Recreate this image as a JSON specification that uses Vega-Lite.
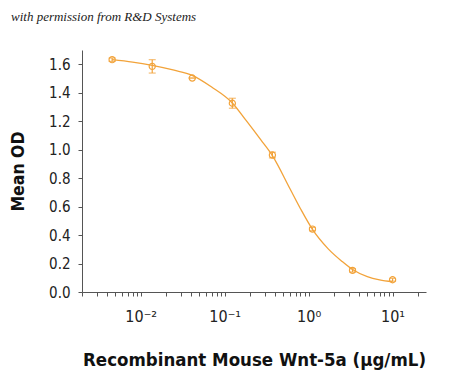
{
  "$schema": "https://vega.github.io/schema/vega-lite/v6.json",
  "width": 344,
  "height": 242,
  "autosize": {"type": "none"},
  "padding": {"left": 82, "top": 50, "right": 24, "bottom": 83},
  "background": "white",
  "title": {
    "text": "with permission from R&D Systems",
    "anchor": "start",
    "frame": "group",
    "dx": -71,
    "offset": 16,
    "baseline": "alphabetic",
    "font": "Liberation Serif",
    "fontStyle": "italic",
    "fontWeight": "normal",
    "fontSize": 13,
    "color": "#222222"
  },
  "config": {
    "view": {"stroke": null},
    "axis": {
      "grid": false,
      "domainColor": "#555555",
      "tickColor": "#555555",
      "labelColor": "#222222",
      "titleColor": "#111111",
      "labelFont": "DejaVu Sans Condensed, Liberation Sans, sans-serif",
      "titleFont": "DejaVu Sans Condensed, Liberation Sans, sans-serif",
      "titleFontWeight": "bold"
    }
  },
  "datasets": {
    "points": [
      {"conc": 0.00457, "od": 1.632, "err": 0.012},
      {"conc": 0.01372, "od": 1.585, "err": 0.047},
      {"conc": 0.04115, "od": 1.503, "err": 0.0},
      {"conc": 0.1235, "od": 1.326, "err": 0.035},
      {"conc": 0.3704, "od": 0.962, "err": 0.02},
      {"conc": 1.111, "od": 0.442, "err": 0.012},
      {"conc": 3.333, "od": 0.152, "err": 0.012},
      {"conc": 10, "od": 0.086, "err": 0.01}
    ],
    "curve": [
      {"conc": 0.00457, "od": 1.632},
      {"conc": 0.008, "od": 1.615},
      {"conc": 0.0137, "od": 1.592},
      {"conc": 0.025, "od": 1.558},
      {"conc": 0.041, "od": 1.522},
      {"conc": 0.07, "od": 1.44},
      {"conc": 0.1235, "od": 1.328},
      {"conc": 0.18, "od": 1.205},
      {"conc": 0.27, "od": 1.068},
      {"conc": 0.37, "od": 0.958},
      {"conc": 0.6, "od": 0.725},
      {"conc": 0.8, "od": 0.585},
      {"conc": 1.111, "od": 0.44},
      {"conc": 1.7, "od": 0.305},
      {"conc": 2.5, "od": 0.215},
      {"conc": 3.333, "od": 0.158},
      {"conc": 5, "od": 0.108},
      {"conc": 7, "od": 0.085},
      {"conc": 10, "od": 0.072}
    ]
  },
  "encoding": {
    "x": {
      "field": "conc",
      "type": "quantitative",
      "scale": {"type": "log", "domain": [0.002, 25], "nice": false},
      "axis": {
        "title": "Recombinant Mouse Wnt-5a (µg/mL)",
        "titleFontSize": 18.5,
        "titlePadding": 26,
        "labelFontSize": 16,
        "labelPadding": 12,
        "tickSize": 4,
        "values": [0.002, 0.003, 0.004, 0.005, 0.006, 0.007, 0.008, 0.009, 0.01, 0.02, 0.03, 0.04, 0.05, 0.06, 0.07, 0.08, 0.09, 0.1, 0.2, 0.3, 0.4, 0.5, 0.6, 0.7, 0.8, 0.9, 1, 2, 3, 4, 5, 6, 7, 8, 9, 10, 20],
        "labelExpr": "datum.value == 0.01 ? '10⁻²' : datum.value == 0.1 ? '10⁻¹' : datum.value == 1 ? '10⁰' : datum.value == 10 ? '10¹' : ''"
      }
    },
    "y": {
      "field": "od",
      "type": "quantitative",
      "scale": {"domain": [0, 1.7], "nice": false, "zero": true},
      "axis": {
        "title": "Mean OD",
        "titleFontSize": 17.5,
        "titlePadding": 21,
        "labelFontSize": 15,
        "labelPadding": 8,
        "tickSize": 4,
        "values": [0, 0.2, 0.4, 0.6, 0.8, 1.0, 1.2, 1.4, 1.6],
        "format": ".1f"
      }
    }
  },
  "layer": [
    {
      "data": {"name": "curve"},
      "mark": {"type": "line", "color": "#F2A33A", "strokeWidth": 1.3, "interpolate": "monotone"}
    },
    {
      "data": {"name": "points"},
      "mark": {"type": "errorbar", "ticks": {"size": 7, "color": "#F2A33A"}, "color": "#F2A33A", "thickness": 1.2},
      "encoding": {
        "yError": {"field": "err"}
      }
    },
    {
      "data": {"name": "points"},
      "mark": {"type": "point", "filled": false, "color": "#F2A33A", "size": 38, "strokeWidth": 1.2, "opacity": 1}
    }
  ]
}
